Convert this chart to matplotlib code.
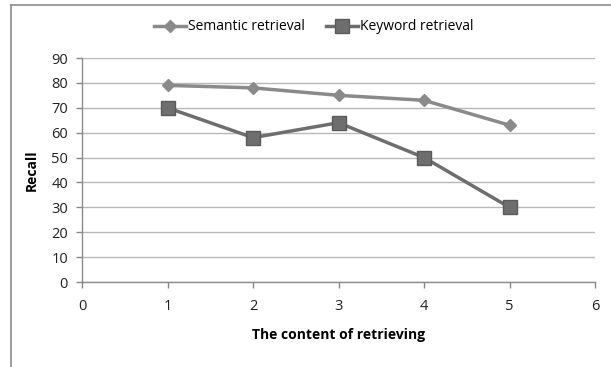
import matplotlib
matplotlib.use("Agg")
import matplotlib.pyplot as plt
from matplotlib.lines import Line2D

x = [1, 2, 3, 4, 5]
semantic = [79, 78, 75, 73, 63]
keyword = [70, 58, 64, 50, 30]
xticks = [0, 1, 2, 3, 4, 5, 6]
yticks = [0, 10, 20, 30, 40, 50, 60, 70, 80, 90]

plt.rcParams['font.family'] = ['Open Sans', 'DejaVu Sans']

fig = plt.figure(figsize=(6.11, 3.67), dpi=100)
ax = fig.add_axes([82/611, 1-282/367, (595-82)/611, (282-58)/367])

ax.plot(x, semantic, color='#8a8a8a', lw=2.5, marker='D', ms=6.5,
        mfc='#8a8a8a', mec='#8a8a8a', label='Semantic retrieval', zorder=3)
ax.plot(x, keyword, color='#6e6e6e', lw=2.5, marker='s', ms=10,
        mfc='#6e6e6e', mec='#5a5a5a', label='Keyword retrieval', zorder=3)

ax.set_xlim(0, 6)
ax.set_ylim(0, 90)
ax.set_xticks(xticks)
ax.set_yticks(yticks)
ax.tick_params(axis='both', labelsize=10.5, colors='#888888', labelcolor='#222222',
               length=4, width=1)
ax.tick_params(axis='x', pad=8)
ax.tick_params(axis='y', pad=6)
ax.grid(axis='y', color='#b8b8b8', lw=1)
ax.set_axisbelow(True)
for s in ['top', 'right']:
    ax.spines[s].set_visible(False)
for s in ['left', 'bottom']:
    ax.spines[s].set_color('#8c8c8c')
    ax.spines[s].set_linewidth(1)

ax.set_xlabel('The content of retrieving', fontsize=10, fontweight='bold', labelpad=10)
ax.set_ylabel('Recall', fontsize=10, fontweight='bold', labelpad=9)

fig.legend(loc='center', bbox_to_anchor=(314/611, 1-27/367), ncol=2, frameon=False,
           fontsize=10, handlelength=2.3, handletextpad=0.15, columnspacing=1.5)

fig.add_artist(Line2D([11/611, 11/611], [0, 1-5/367], color='#8c8c8c', lw=1.2,
                      transform=fig.transFigure))
fig.add_artist(Line2D([11/611, 1], [1-5/367, 1-5/367], color='#8c8c8c', lw=1.2,
                      transform=fig.transFigure))

fig.savefig('out.png', dpi=100)
